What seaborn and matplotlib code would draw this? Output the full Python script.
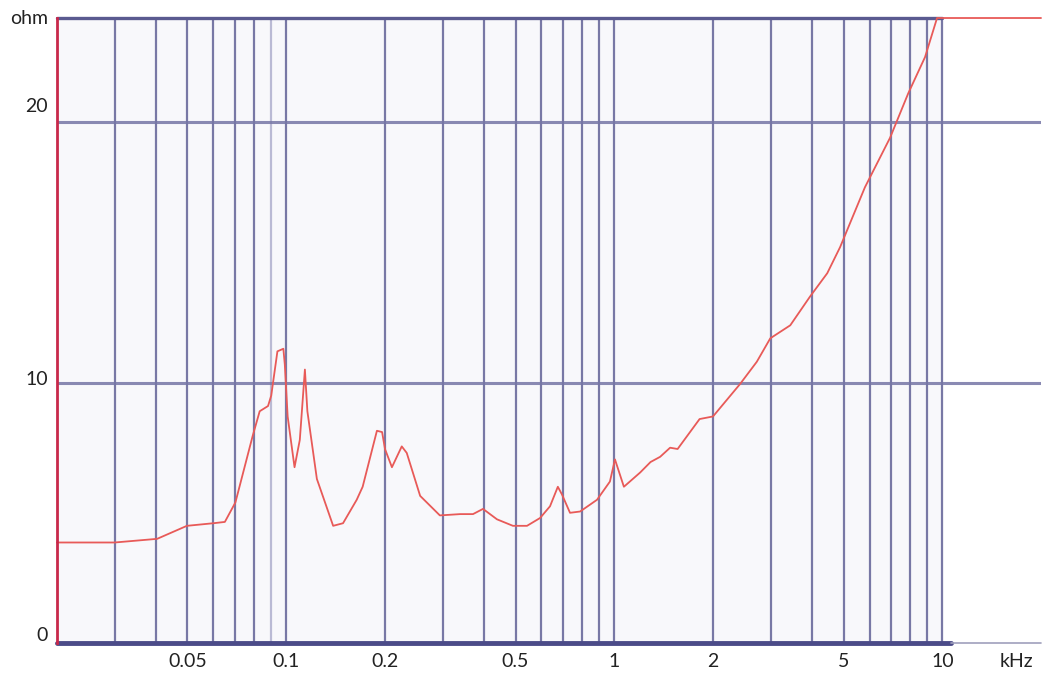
import numpy as np
import matplotlib
matplotlib.use('Agg')
import matplotlib.pyplot as plt
import seaborn as sns

# impedance curve (frequency in kHz, impedance in ohm)
freq_khz = [0.020, 0.030, 0.0404, 0.0498, 0.060, 0.065, 0.070, 0.079, 0.083, 0.088,
            0.090, 0.094, 0.098, 0.099, 0.101, 0.106, 0.110, 0.114, 0.116, 0.124,
            0.139, 0.149, 0.164, 0.171, 0.189, 0.196, 0.200, 0.210, 0.225, 0.233,
            0.256, 0.294, 0.339, 0.371, 0.398, 0.439, 0.491, 0.542, 0.594, 0.637,
            0.673, 0.693, 0.733, 0.787, 0.886, 0.970, 1.005, 1.02, 1.07, 1.20,
            1.29, 1.38, 1.48, 1.56, 1.82, 2.0, 2.42, 2.72, 2.99, 3.44,
            3.95, 4.46, 4.88, 5.81, 6.93, 7.87, 8.86, 9.64, 10.0, 20.0]
impedance = [3.86, 3.86, 4.0, 4.5, 4.6, 4.65, 5.4, 7.95, 8.9, 9.1,
             9.5, 11.2, 11.3, 10.7, 8.7, 6.75, 7.8, 10.5, 8.9, 6.3,
             4.5, 4.6, 5.5, 6.0, 8.15, 8.1, 7.45, 6.75, 7.55, 7.3,
             5.65, 4.9, 4.95, 4.95, 5.15, 4.75, 4.5, 4.5, 4.8, 5.25,
             6.0, 5.7, 5.0, 5.05, 5.5, 6.2, 7.05, 6.8, 6.0, 6.55,
             6.95, 7.15, 7.5, 7.45, 8.6, 8.7, 9.95, 10.8, 11.7, 12.2,
             13.3, 14.2, 15.2, 17.5, 19.4, 21.1, 22.5, 24.0, 24.0, 24.0]

x_ticks = [0.05, 0.1, 0.2, 0.5, 1, 2, 5, 10]
x_tick_labels = ['0.05', '0.1', '0.2', '0.5', '1', '2', '5', '10']
y_ticks = [0, 10, 20]
y_tick_labels = ['0', '10', '20']

sns.set_theme(style='white')
plt.rcParams['font.family'] = ['Lato', 'DejaVu Sans']

fig = plt.figure(figsize=(10.45, 6.77), dpi=100)
ax = fig.add_axes([0.0545, 0.0502, 0.9417, 0.9232])
ax.set_xscale('log')
ax.set_xlim(0.02, 20)
ax.set_ylim(0, 24)
ax.set_facecolor('white')

grid_col = '#6a6a9c'
# shaded measurement area up to 10 kHz
ax.axvspan(0.02, 10, color='#f8f8fb', zorder=0)

# vertical grid lines 1-2-3... per decade, only up to 10 kHz
grid_x = [m * 10.0 ** e for e in (-2, -1, 0) for m in range(1, 10)]
grid_x = [g for g in grid_x if 0.025 < g <= 10.0001] + [10]
for g in grid_x:
    light = abs(g - 0.09) < 1e-6
    ax.axvline(g, color='#b4b4d0' if light else grid_col, lw=1.6, alpha=0.9, zorder=1)

# horizontal grid lines
for v in (10, 20):
    ax.axhline(v, color='#7676a6', lw=2.2, alpha=0.85, zorder=1)
ax.plot([0.02, 10], [24, 24], color='#5a5a90', lw=2.4, zorder=1, clip_on=False)
ax.plot([0.02, 10.6], [0, 0], color='#4b4b88', lw=3.5, zorder=2, clip_on=False)
ax.plot([10.6, 20], [0, 0], color='#a0a0bc', lw=1.2, zorder=2, clip_on=False)

sns.lineplot(x=freq_khz, y=impedance, ax=ax, color='#e85a58', lw=1.3,
             zorder=3, clip_on=False, estimator=None, sort=False)

for s in ('top', 'right', 'bottom'):
    ax.spines[s].set_visible(False)
ax.spines['left'].set_color('#c8284a')
ax.spines['left'].set_linewidth(2.0)
ax.spines['left'].set_zorder(4)

ax.set_xticks(x_ticks)
ax.set_xticklabels(x_tick_labels)
ax.xaxis.set_minor_locator(matplotlib.ticker.NullLocator())
ax.set_yticks([])
ax.tick_params(axis='x', length=0, pad=7, labelsize=14, colors='#222222')

ytrans = ax.get_yaxis_transform()
for v, lab, off in zip(y_ticks, y_tick_labels, [0.3, 0.1, 0.6]):
    ax.text(-0.009, v + off, lab, transform=ytrans, ha='right', va='center',
            fontsize=14, color='#222222')
ax.text(-0.009, 24.0, 'ohm', transform=ytrans, ha='right', va='center',
        fontsize=14, color='#222222')
ax.text(0.9925, -0.029, 'kHz', transform=ax.transAxes, ha='right', va='center',
        fontsize=14, color='#222222')

fig.savefig('out.png', dpi=100)
